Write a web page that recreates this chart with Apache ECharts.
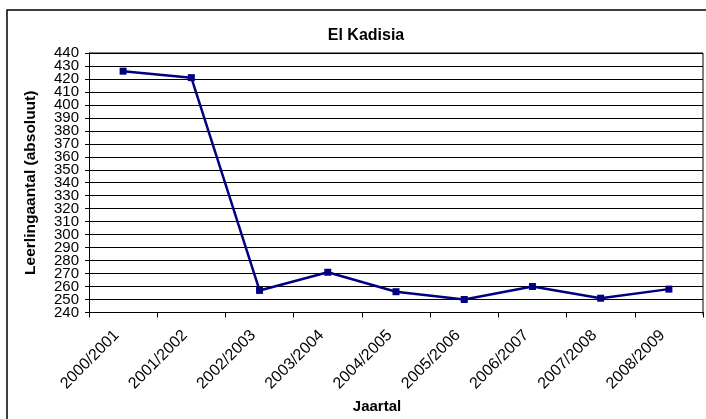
<!DOCTYPE html>
<html>
<head>
<meta charset="utf-8">
<script src="https://cdn.jsdelivr.net/npm/echarts@6/dist/echarts.min.js"></script>
<style>
  html, body { margin: 0; padding: 0; background: #fff; }
  #chart { width: 706px; height: 419px; }
</style>
</head>
<body>
<div id="chart"></div>
<script>
// schooljaren en leerlingaantallen
const years = ['2000/2001', '2001/2002', '2002/2003', '2003/2004', '2004/2005',
               '2005/2006', '2006/2007', '2007/2008', '2008/2009'];
const pupils = [426, 421, 257, 271, 256, 250, 260, 251, 258];
const yMin = 240, yMax = 440, yStep = 10;

const chart = echarts.init(document.getElementById('chart'));
const font = 'Liberation Sans, Arial, sans-serif';

// labels staan dicht op elkaar: verdeeld over twee assen zodat echarts ze niet verbergt
const labelStyle = {margin: 10, fontFamily: font, fontSize: 15, color: '#000',
                    showMinLabel: true, showMaxLabel: true};
const evenLabels = v => ((v - yMin) % (2 * yStep) === 0 ? String(v) : '');
const oddLabels = v => ((v - yMin) % (2 * yStep) !== 0 ? String(v) : '');

const option = {
  animation: false,
  backgroundColor: '#fff',
  title: {
    text: 'El Kadisia',
    left: 361,
    top: 23,
    textAlign: 'center',
    textStyle: {fontFamily: font, fontSize: 16, fontWeight: 'bold', color: '#000'}
  },
  grid: {left: 89, right: 3, top: 53, bottom: 104},
  xAxis: {
    type: 'category',
    data: years,
    name: 'Jaartal',
    nameLocation: 'middle',
    nameGap: 86,
    nameTextStyle: {fontFamily: font, fontSize: 15, fontWeight: 'bold', color: '#000',
                    padding: [0, 38, 0, 0]},
    axisLine: {lineStyle: {color: '#000', width: 1}},
    axisTick: {show: true, length: 5, lineStyle: {color: '#000'}},
    axisLabel: {rotate: 45, margin: 14, padding: [0, 9, 0, 0],
                fontFamily: font, fontSize: 16, color: '#000'}
  },
  yAxis: [{
    type: 'value',
    position: 'left',
    min: yMin,
    max: yMax,
    interval: yStep,
    name: 'Leerlingaantal (absoluut)',
    nameLocation: 'middle',
    nameGap: 50,
    nameTextStyle: {fontFamily: font, fontSize: 15.5, fontWeight: 'bold', color: '#000'},
    axisLine: {show: true, lineStyle: {color: '#000', width: 1}},
    axisTick: {show: true, length: 4, lineStyle: {color: '#000'}},
    axisLabel: Object.assign({formatter: evenLabels}, labelStyle),
    splitLine: {lineStyle: {color: '#000', width: 1}}
  }, {
    type: 'value',
    position: 'left',
    offset: 0,
    min: yMin,
    max: yMax,
    interval: yStep,
    axisLine: {show: false},
    axisTick: {show: false},
    splitLine: {show: false},
    axisLabel: Object.assign({formatter: oddLabels}, labelStyle)
  }],
  graphic: [
    {type: 'rect', shape: {x: 7, y: 10, width: 740, height: 440},
     style: {fill: 'none', stroke: '#000', lineWidth: 1.5}, silent: true},
    {type: 'line', shape: {x1: 89, y1: 53, x2: 703, y2: 53},
     style: {stroke: '#808080', lineWidth: 2}, silent: true},
    {type: 'line', shape: {x1: 703, y1: 53, x2: 703, y2: 315},
     style: {stroke: '#808080', lineWidth: 2}, silent: true}
  ],
  series: [{
    type: 'line',
    yAxisIndex: 0,
    data: pupils,
    symbol: 'rect',
    symbolSize: [7, 7],
    lineStyle: {color: '#000080', width: 2.5},
    itemStyle: {color: '#000080'}
  }]
};

chart.setOption(option);
</script>
</body>
</html>
